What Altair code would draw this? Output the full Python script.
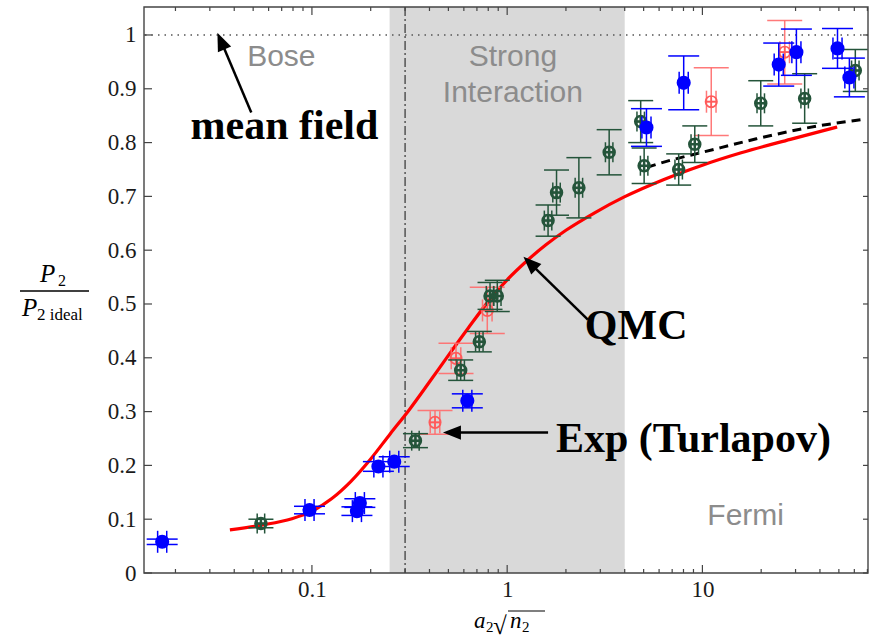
import altair as alt
import pandas as pd

W, H = 724, 566
X_DOMAIN = [0.0138, 70.5]
Y_DOMAIN = [0.0, 1.052]

# ---- data ----
blue_x = [0.0171, 0.0972, 0.176, 0.170, 0.219, 0.264, 0.625, 5.17, 8.02, 24.6, 30.3, 49.2, 56.6]
blue_y = [0.058, 0.117, 0.130, 0.115, 0.198, 0.207, 0.320, 0.828, 0.911, 0.945, 0.968, 0.975, 0.921]
blue_dy = [0.005, 0.007, 0.008, 0.008, 0.009, 0.009, 0.013, 0.035, 0.050, 0.040, 0.043, 0.037, 0.036]

green_x = [0.0548, 0.339, 0.578, 0.720, 0.817, 0.890, 1.62, 1.79, 2.33, 3.33, 4.83, 5.03, 7.56, 9.14, 19.9, 33.4, 60.7]
green_y = [0.092, 0.246, 0.377, 0.430, 0.515, 0.515, 0.655, 0.707, 0.716, 0.782, 0.839, 0.757, 0.750, 0.797, 0.873, 0.882, 0.934]
green_dy = [0.008, 0.013, 0.019, 0.019, 0.025, 0.029, 0.029, 0.042, 0.056, 0.042, 0.039, 0.033, 0.029, 0.034, 0.042, 0.046, 0.039]

red_x = [0.427, 0.547, 0.791, 11.1, 26.4]
red_y = [0.280, 0.399, 0.488, 0.876, 0.968]
red_dy = [0.022, 0.028, 0.043, 0.063, 0.059]

qmc_x = [0.038, 0.055, 0.079, 0.100, 0.126, 0.158, 0.200, 0.251, 0.316, 0.398, 0.501, 0.631, 0.794,
         1.00, 1.26, 1.58, 2.00, 2.82, 3.98, 6.31, 10.0, 15.8, 28.2, 49.0]
qmc_y = [0.080, 0.089, 0.101, 0.115, 0.138, 0.170, 0.212, 0.258, 0.304, 0.354, 0.405, 0.455, 0.503,
         0.545, 0.580, 0.610, 0.637, 0.670, 0.699, 0.731, 0.758, 0.781, 0.806, 0.829]

dash_x = [5.2, 7.0, 10.0, 18.9, 34, 69]
dash_y = [0.754, 0.768, 0.782, 0.807, 0.827, 0.844]

x_major = [0.1, 1, 10]
x_minor = [0.02, 0.03, 0.04, 0.05, 0.06, 0.07, 0.08, 0.09,
           0.2, 0.3, 0.4, 0.5, 0.6, 0.7, 0.8, 0.9,
           2, 3, 4, 5, 6, 7, 8, 9, 20, 30, 40, 50, 60, 70]
y_major = [0, 0.1, 0.2, 0.3, 0.4, 0.5, 0.6, 0.7, 0.8, 0.9, 1.0]

band = [0.25, 4.0]
crossover = [0.3]
mean_field_level = [1.0]

bold_text = ["mean field", "QMC", "Exp (Turlapov)"]
bold_x = [0.0239, 2.50, 1.777]
bold_y = [0.807, 0.435, 0.225]

gray_text = ["Bose", "Strong", "Interaction", "Fermi"]
gray_x = [0.0697, 1.07, 1.07, 16.65]
gray_y = [0.943, 0.943, 0.876, 0.0898]

arrow_tail_x = [0.0489, 2.59, 1.62]
arrow_tail_y = [0.856, 0.471, 0.261]
arrow_end_x = [0.0344, 1.317, 0.541]
arrow_end_y = [0.987, 0.575, 0.261]
arrow_tip_x = [0.0328, 1.212, 0.469]
arrow_tip_y = [1.004, 0.588, 0.261]
arrow_angle = [336.7, 314.5, 270]

SERIF = "Liberation Serif"
SANS = "Liberation Sans"
FRAME = "#444444"
BLUE = "#0000ff"
GREEN = "#24543a"
RED = "#ff5a5a"

xscale = alt.Scale(type="log", domain=X_DOMAIN, nice=False)
yscale = alt.Scale(domain=Y_DOMAIN, nice=False, zero=False)
xaxis = alt.Axis(values=x_major, format="~g", ticks=False, domain=False, grid=False,
                 labelFont=SERIF, labelFontSize=23, labelPadding=5, labelColor="#1a1a1a")
yaxis = alt.Axis(values=y_major, format="~g", ticks=False, domain=False, grid=False,
                 labelFont=SERIF, labelFontSize=23, labelPadding=8, labelColor="#1a1a1a")


def X(f):
    return alt.X(f, type="quantitative", scale=xscale, axis=xaxis, title=None)


def Y(f):
    return alt.Y(f, type="quantitative", scale=yscale, axis=yaxis, title=None)


def series(xs, ys, dys, fx):
    df = pd.DataFrame({"x": xs, "y": ys, "dy": dys})
    df["ylo"] = df["y"] - df["dy"]
    df["yhi"] = df["y"] + df["dy"]
    df["xlo"] = df["x"] / fx
    df["xhi"] = df["x"] * fx
    return df


def err_layers(df, color, capw, capl, sw, opacity=1.0):
    b = alt.Chart(df)
    ycap = pd.concat([df[["x", "ylo"]].rename(columns={"ylo": "yc"}),
                      df[["x", "yhi"]].rename(columns={"yhi": "yc"})])
    xcap = pd.concat([df[["xlo", "y"]].rename(columns={"xlo": "xc"}),
                      df[["xhi", "y"]].rename(columns={"xhi": "xc"})])
    return [
        b.mark_rule(color=color, strokeWidth=sw, opacity=opacity).encode(x=X("x"), y=Y("ylo"), y2="yhi"),
        b.mark_rule(color=color, strokeWidth=sw, opacity=opacity).encode(x=X("xlo"), x2="xhi", y=Y("y")),
        alt.Chart(ycap).mark_tick(orient="horizontal", size=capw, thickness=sw, color=color,
                                  opacity=opacity).encode(x=X("x"), y=Y("yc")),
        alt.Chart(xcap).mark_tick(orient="vertical", size=capl, thickness=sw, color=color,
                                  opacity=opacity).encode(x=X("xc"), y=Y("y")),
    ]


blue_df = series(blue_x, blue_y, blue_dy, 1.055)
green_df = series(green_x, green_y, green_dy, 1.045)
red_df = series(red_x, red_y, red_dy, 1.058)

OPLUS = "M-1,0A1,1,0,1,1,1,0A1,1,0,1,1,-1,0ZM-1,0L1,0M0,-1L0,1"
ARROW = "M0,0L0.8,2L-0.8,2Z"

layers = []

# shaded strong-interaction band
layers.append(alt.Chart(pd.DataFrame({"a": [band[0]], "b": [band[1]]})).mark_rect(color="#d9d9d9").encode(
    x=X("a"), x2="b", y=alt.value(0), y2=alt.value(H)))
# dotted mean field line and dash-dot crossover line
layers.append(alt.Chart(pd.DataFrame({"y": mean_field_level})).mark_rule(
    color="#555555", strokeWidth=1.3, strokeDash=[1.5, 5]).encode(y=Y("y")))
layers.append(alt.Chart(pd.DataFrame({"x": crossover})).mark_rule(
    color="#333333", strokeWidth=1.2, strokeDash=[9, 3, 2, 3]).encode(x=X("x")))

# curves
layers.append(alt.Chart(pd.DataFrame({"x": dash_x, "y": dash_y})).mark_line(
    color="black", strokeWidth=3, strokeDash=[9, 6], interpolate="monotone").encode(x=X("x"), y=Y("y")))
layers.append(alt.Chart(pd.DataFrame({"x": qmc_x, "y": qmc_y})).mark_line(
    color="#ff0000", strokeWidth=3.2, interpolate="monotone").encode(x=X("x"), y=Y("y")))

# data series: red, green, blue
layers += err_layers(red_df, "#ff6a6a", 35, 22, 1.5, 0.9)
layers.append(alt.Chart(red_df).mark_point(shape=OPLUS, size=130, filled=False, color=RED,
                                           strokeWidth=1.7, opacity=1).encode(x=X("x"), y=Y("y")))
layers += err_layers(green_df, GREEN, 25, 20, 1.5)
layers.append(alt.Chart(green_df).mark_point(shape=OPLUS, size=121, filled=False, color=GREEN,
                                             strokeWidth=2.5, opacity=1).encode(x=X("x"), y=Y("y")))
layers += err_layers(blue_df, BLUE, 31, 22, 1.5)
layers.append(alt.Chart(blue_df).mark_circle(size=200, color=BLUE, opacity=1).encode(x=X("x"), y=Y("y")))

# annotations
arr = pd.DataFrame({"tx": arrow_tail_x, "ty": arrow_tail_y, "ex": arrow_end_x, "ey": arrow_end_y,
                    "px": arrow_tip_x, "py": arrow_tip_y, "ang": arrow_angle})
layers.append(alt.Chart(arr).mark_rule(color="black", strokeWidth=2.5).encode(
    x=X("tx"), y=Y("ty"), x2="ex", y2="ey"))
layers.append(alt.Chart(arr).mark_point(shape=ARROW, size=324, filled=True, color="black", opacity=1).encode(
    x=X("px"), y=Y("py"), angle=alt.Angle("ang:Q", scale=None)))

layers.append(alt.Chart(pd.DataFrame({"t": bold_text, "x": bold_x, "y": bold_y})).mark_text(
    font=SERIF, fontSize=42, fontWeight="bold", color="black", align="left", baseline="alphabetic").encode(
    x=X("x"), y=Y("y"), text="t:N"))
layers.append(alt.Chart(pd.DataFrame({"t": gray_text, "x": gray_x, "y": gray_y})).mark_text(
    font=SANS, fontSize=30, color="#8c8c8c", align="center", baseline="alphabetic").encode(
    x=X("x"), y=Y("y"), text="t:N"))

# frame ticks (inward)
xmaj = pd.DataFrame({"v": x_major})
xmin = pd.DataFrame({"v": x_minor})
ymaj = pd.DataFrame({"v": y_major})
tk = dict(color=FRAME, strokeWidth=1.2)
layers.append(alt.Chart(xmaj).mark_rule(**tk).encode(x=X("v"), y=alt.value(H), y2=alt.value(H - 8)))
layers.append(alt.Chart(xmaj).mark_rule(**tk).encode(x=X("v"), y=alt.value(0), y2=alt.value(8)))
layers.append(alt.Chart(xmin).mark_rule(**tk).encode(x=X("v"), y=alt.value(H), y2=alt.value(H - 4)))
layers.append(alt.Chart(xmin).mark_rule(**tk).encode(x=X("v"), y=alt.value(0), y2=alt.value(4)))
layers.append(alt.Chart(ymaj).mark_rule(**tk).encode(y=Y("v"), x=alt.value(0), x2=alt.value(8)))
layers.append(alt.Chart(ymaj).mark_rule(**tk).encode(y=Y("v"), x=alt.value(W), x2=alt.value(W - 5)))

# frame
layers.append(alt.Chart(pd.DataFrame({"a": [0]})).mark_rect(filled=False, stroke=FRAME, strokeWidth=1.4).encode(
    x=alt.value(0), x2=alt.value(W), y=alt.value(0), y2=alt.value(H)))


def label(txt, x, y, size, style="normal", align="left"):
    return alt.Chart(pd.DataFrame({"t": [txt]})).mark_text(
        font=SERIF, fontSize=size, fontStyle=style, color="black", align=align, baseline="alphabetic").encode(
        text="t:N", x=alt.value(x), y=alt.value(y))


# y-axis title: P2 / P2 ideal
layers.append(label("P", -104, 275, 25, "italic"))
layers.append(label("2", -86, 279, 16))
layers.append(alt.Chart(pd.DataFrame({"a": [0]})).mark_rule(color="black", strokeWidth=1.3).encode(
    x=alt.value(-124), x2=alt.value(-55), y=alt.value(284)))
layers.append(label("P", -122, 309, 25, "italic"))
layers.append(label("2 ideal", -107, 313, 17))

# x-axis title: a2 sqrt(n2)
layers.append(label("a", 330, 621, 23, "italic"))
layers.append(label("2", 342, 625, 15))
layers.append(label("√", 349, 627, 25))
layers.append(alt.Chart(pd.DataFrame({"a": [0]})).mark_rule(color="black", strokeWidth=1.1).encode(
    x=alt.value(364), x2=alt.value(401), y=alt.value(604)))
layers.append(label("n", 366, 621, 23, "italic"))
layers.append(label("2", 378, 625, 15))

chart = alt.layer(*layers).properties(
    width=W, height=H,
    autosize=alt.AutoSizeParams(type="none"),
    padding={"left": 144, "top": 7, "right": 4, "bottom": 65},
    background="white",
).configure_view(strokeWidth=0)

chart.save("out.html", embed_options={"renderer": "svg", "actions": False})
